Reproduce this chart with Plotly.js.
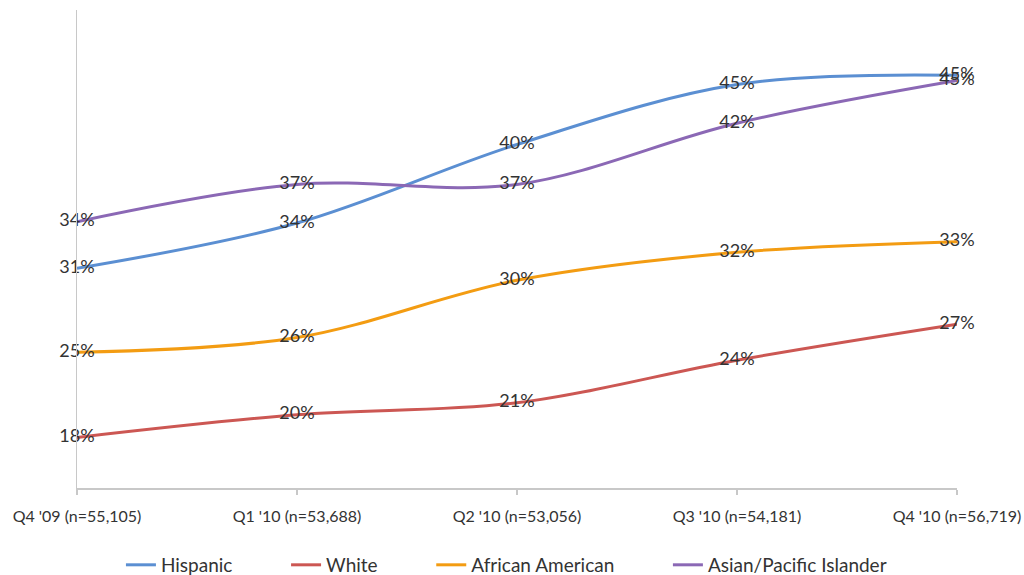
<!DOCTYPE html>
<html>
<head>
<meta charset="utf-8">
<script src="https://cdn.plot.ly/plotly-3.0.1.min.js"></script>
<style>
html,body{margin:0;padding:0;background:#fff;}
#chart{width:1024px;height:575px;}
</style>
</head>
<body>
<div id="chart"></div>
<script>
var categories = ["Q4 '09 (n=55,105)", "Q1 '10 (n=53,688)", "Q2 '10 (n=53,056)", "Q3 '10 (n=54,181)", "Q4 '10 (n=56,719)"];
var hispanic = [30.9, 34.3, 40.2, 44.7, 45.4];
var white = [18.2, 19.9, 20.8, 24.0, 26.7];
var africanAmerican = [24.6, 25.7, 30.0, 32.1, 32.9];
var asianPacific = [34.4, 37.2, 37.2, 41.8, 45.0];
var seriesNames = ["Hispanic", "White", "African American", "Asian/Pacific Islander"];
var seriesColors = ["#5B8FD2", "#CC5753", "#F39C12", "#8B68B5"];

var pad = '\u00A0\u00A0\u00A0\u00A0\u00A0\u00A0\u00A0\u00A0\u00A0\u00A0';
var seriesValues = [hispanic, white, africanAmerican, asianPacific];
var traces = [];
seriesValues.forEach(function(vals, i){
  traces.push({
    type: 'scatter', mode: 'lines', x: categories, y: vals,
    name: seriesNames[i] + (i < seriesNames.length - 1 ? pad : ''),
    line: {color: seriesColors[i], width: 3, shape: 'spline', smoothing: 1},
    hoverinfo: 'skip'
  });
});
seriesValues.forEach(function(vals, i){
  traces.push({
    type: 'scatter', mode: 'text', x: categories, y: vals, showlegend: false,
    text: vals.map(function(v){ return Math.round(v) + '%'; }),
    textposition: 'middle center', cliponaxis: false,
    textfont: {family: 'Lato, "Open Sans", sans-serif', size: 18, color: '#333333'},
    hoverinfo: 'skip'
  });
});

var layout = {
  width: 1024, height: 575,
  margin: {l: 77, r: 67, t: 10, b: 87, autoexpand: false},
  paper_bgcolor: '#ffffff', plot_bgcolor: '#ffffff',
  showlegend: true,
  legend: {orientation: 'h', x: 0.488, xanchor: 'center', y: -0.161, yanchor: 'middle',
    font: {family: 'Lato, "Open Sans", sans-serif', size: 19, color: '#333333'},
    itemwidth: 30, tracegroupgap: 0},
  xaxis: {type: 'category', range: [0, 4], showgrid: false, zeroline: false,
    showline: true, linecolor: '#c8c8c8', linewidth: 1.5,
    ticks: 'outside', ticklen: 5, tickcolor: '#c8c8c8', tickwidth: 1.5,
    tickfont: {family: 'Lato, "Open Sans", sans-serif', size: 16, color: '#333333'},
    ticklabelstandoff: 8, fixedrange: true},
  yaxis: {range: [14.4, 50.3], showgrid: false, zeroline: false, showticklabels: false,
    showline: true, linecolor: '#c8c8c8', linewidth: 1.5, ticks: '', fixedrange: true}
};

Plotly.newPlot('chart', traces, layout, {displayModeBar: false, staticPlot: true});
</script>
</body>
</html>
